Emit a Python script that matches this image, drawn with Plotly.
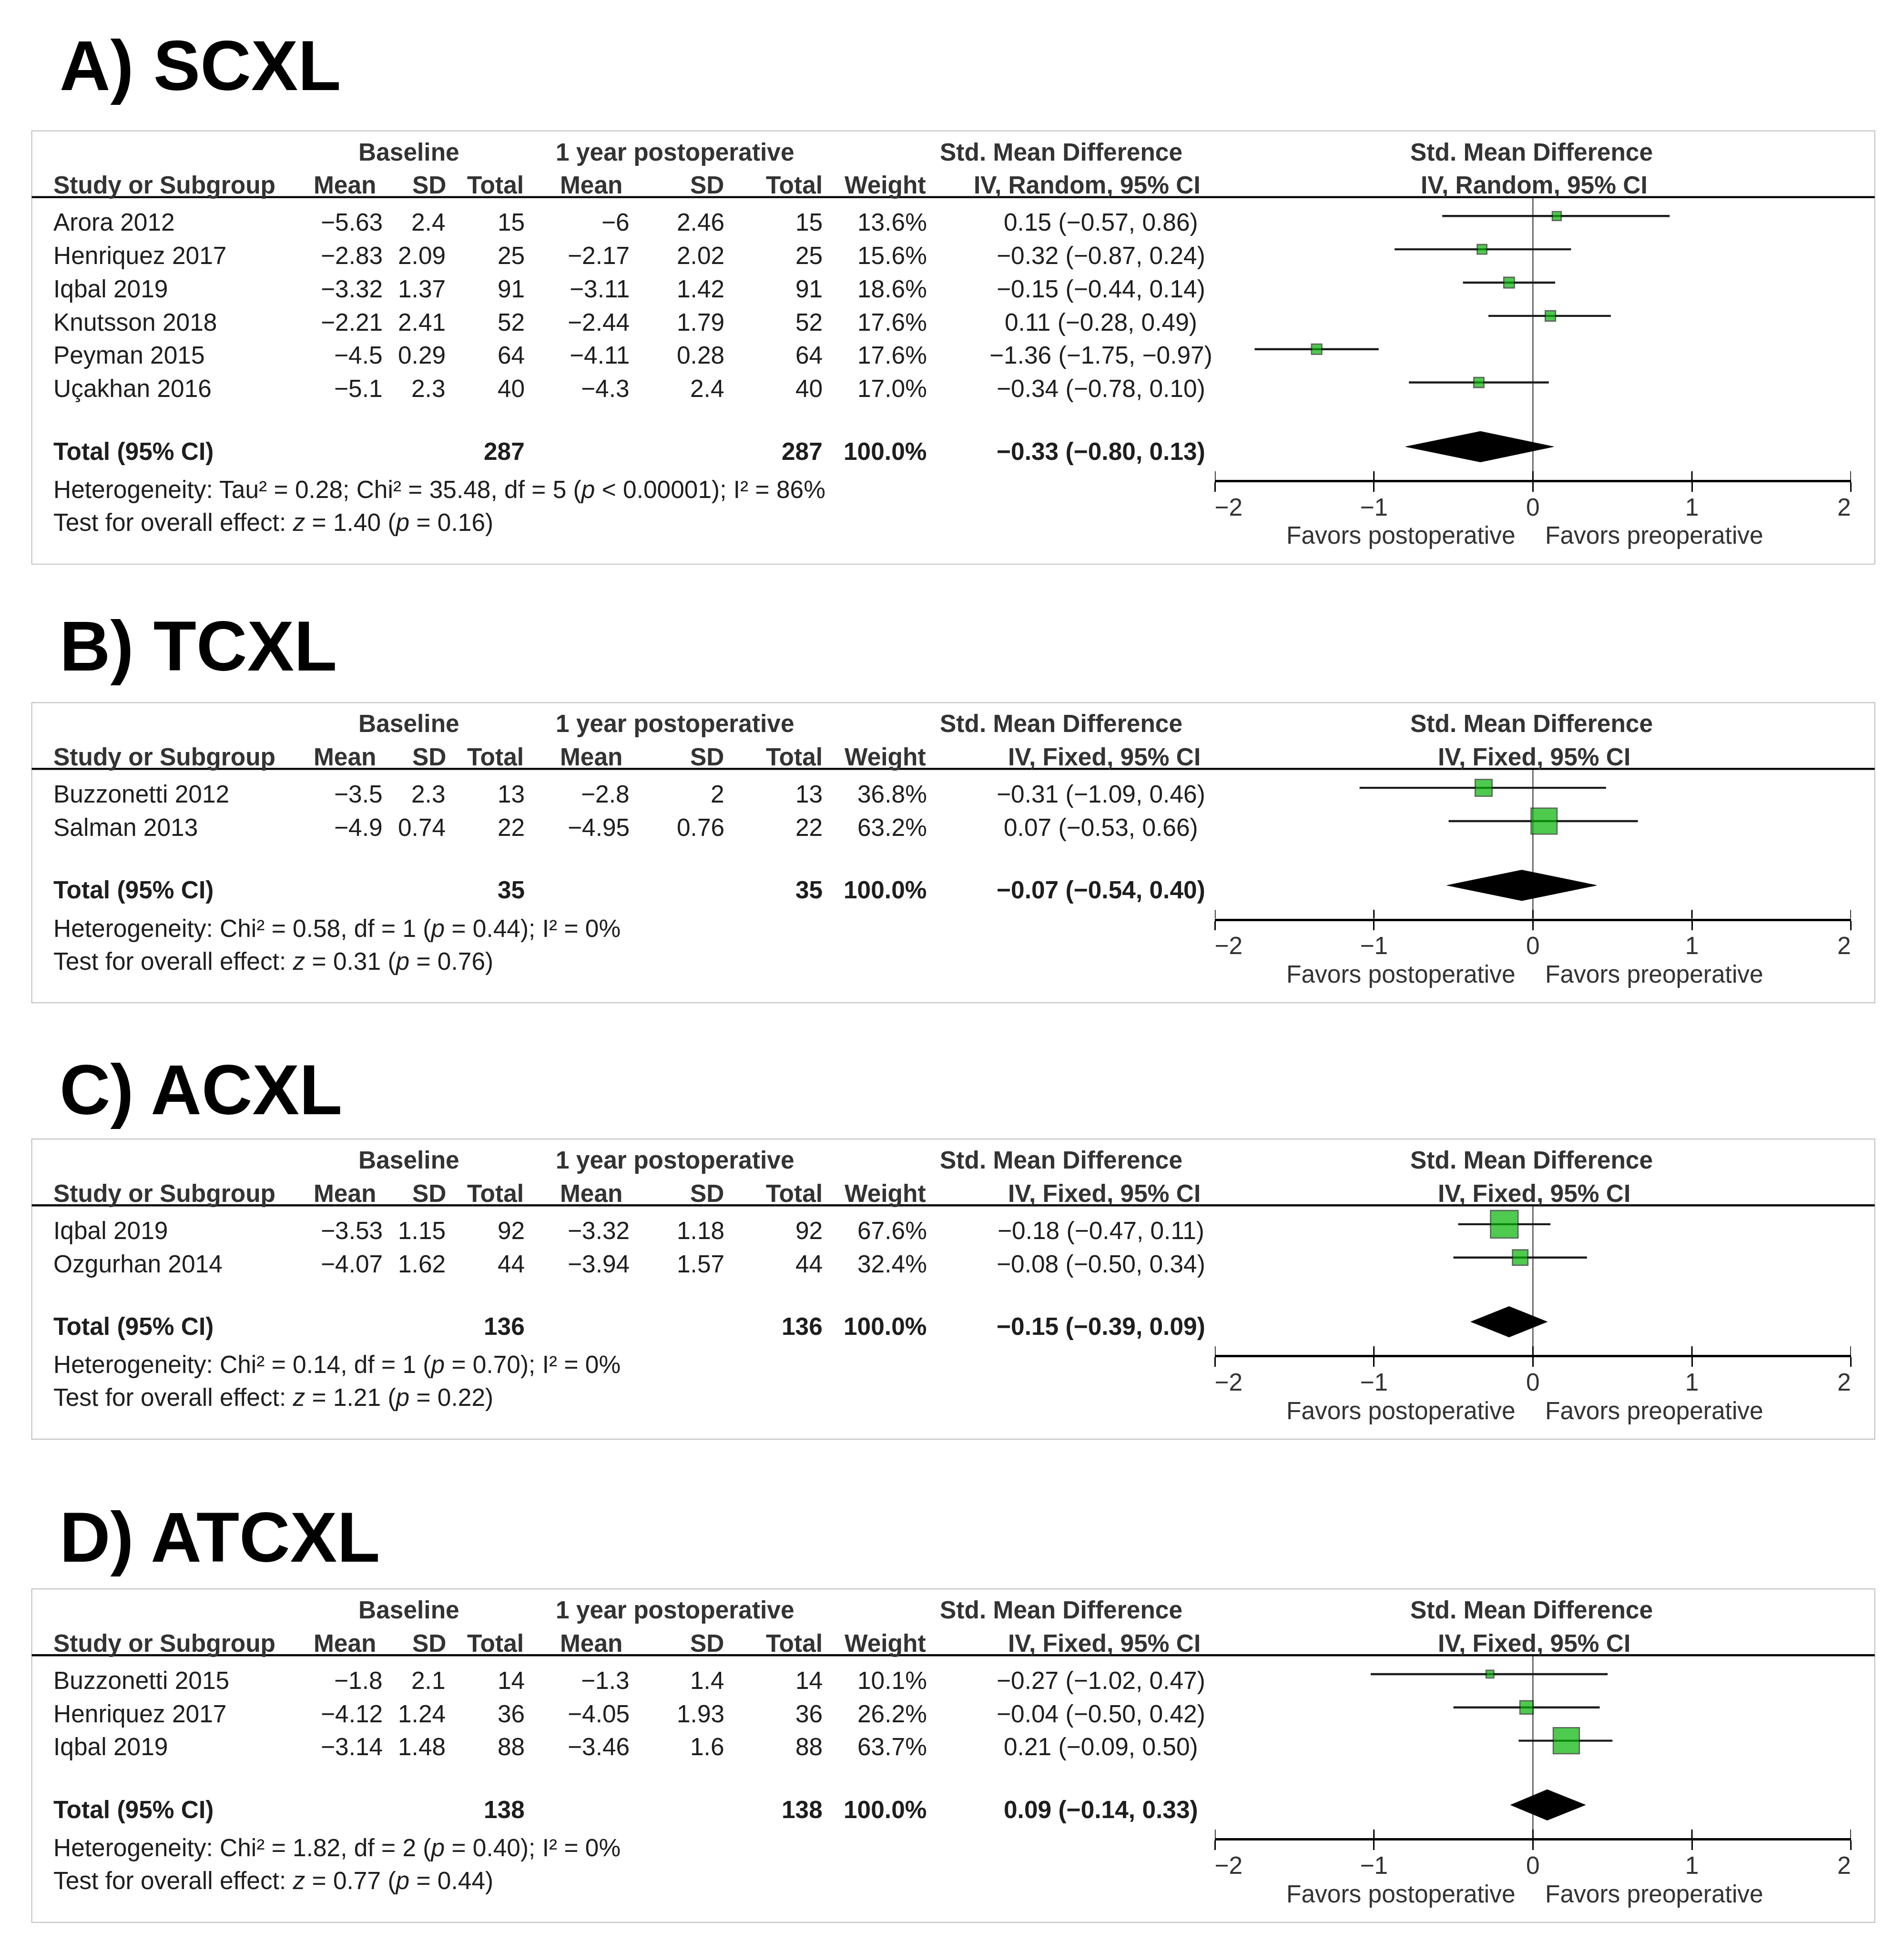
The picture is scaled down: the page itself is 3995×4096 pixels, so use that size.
import plotly.graph_objects as go

# ---------------- data ----------------
A_study = ["Arora 2012", "Henriquez 2017", "Iqbal 2019", "Knutsson 2018", "Peyman 2015", "Uçakhan 2016"]
A_base_mean = [-5.63, -2.83, -3.32, -2.21, -4.5, -5.1]
A_base_sd = [2.4, 2.09, 1.37, 2.41, 0.29, 2.3]
A_base_n = [15, 25, 91, 52, 64, 40]
A_post_mean = [-6, -2.17, -3.11, -2.44, -4.11, -4.3]
A_post_sd = [2.46, 2.02, 1.42, 1.79, 0.28, 2.4]
A_post_n = [15, 25, 91, 52, 64, 40]
A_weight = [13.6, 15.6, 18.6, 17.6, 17.6, 17.0]
A_smd = [0.15, -0.32, -0.15, 0.11, -1.36, -0.34]
A_lo = [-0.57, -0.87, -0.44, -0.28, -1.75, -0.78]
A_hi = [0.86, 0.24, 0.14, 0.49, -0.97, 0.10]
A_total_n = [287, 287]
A_pooled = [-0.33, -0.80, 0.13]
A_het = "Heterogeneity: Tau² = 0.28; Chi² = 35.48, df = 5 (<i>p</i> &lt; 0.00001); I² = 86%"
A_test = "Test for overall effect: <i>z</i> = 1.40 (<i>p</i> = 0.16)"

B_study = ["Buzzonetti 2012", "Salman 2013"]
B_base_mean = [-3.5, -4.9]
B_base_sd = [2.3, 0.74]
B_base_n = [13, 22]
B_post_mean = [-2.8, -4.95]
B_post_sd = [2, 0.76]
B_post_n = [13, 22]
B_weight = [36.8, 63.2]
B_smd = [-0.31, 0.07]
B_lo = [-1.09, -0.53]
B_hi = [0.46, 0.66]
B_total_n = [35, 35]
B_pooled = [-0.07, -0.54, 0.40]
B_het = "Heterogeneity: Chi² = 0.58, df = 1 (<i>p</i> = 0.44); I² = 0%"
B_test = "Test for overall effect: <i>z</i> = 0.31 (<i>p</i> = 0.76)"

C_study = ["Iqbal 2019", "Ozgurhan 2014"]
C_base_mean = [-3.53, -4.07]
C_base_sd = [1.15, 1.62]
C_base_n = [92, 44]
C_post_mean = [-3.32, -3.94]
C_post_sd = [1.18, 1.57]
C_post_n = [92, 44]
C_weight = [67.6, 32.4]
C_smd = [-0.18, -0.08]
C_lo = [-0.47, -0.50]
C_hi = [0.11, 0.34]
C_total_n = [136, 136]
C_pooled = [-0.15, -0.39, 0.09]
C_het = "Heterogeneity: Chi² = 0.14, df = 1 (<i>p</i> = 0.70); I² = 0%"
C_test = "Test for overall effect: <i>z</i> = 1.21 (<i>p</i> = 0.22)"

D_study = ["Buzzonetti 2015", "Henriquez 2017", "Iqbal 2019"]
D_base_mean = [-1.8, -4.12, -3.14]
D_base_sd = [2.1, 1.24, 1.48]
D_base_n = [14, 36, 88]
D_post_mean = [-1.3, -4.05, -3.46]
D_post_sd = [1.4, 1.93, 1.6]
D_post_n = [14, 36, 88]
D_weight = [10.1, 26.2, 63.7]
D_smd = [-0.27, -0.04, 0.21]
D_lo = [-1.02, -0.50, -0.09]
D_hi = [0.47, 0.42, 0.50]
D_total_n = [138, 138]
D_pooled = [0.09, -0.14, 0.33]
D_het = "Heterogeneity: Chi² = 1.82, df = 2 (<i>p</i> = 0.40); I² = 0%"
D_test = "Test for overall effect: <i>z</i> = 0.77 (<i>p</i> = 0.44)"

panel_titles = ["A) SCXL", "B) TCXL", "C) ACXL", "D) ATCXL"]
panel_methods = ["IV, Random, 95% CI", "IV, Fixed, 95% CI", "IV, Fixed, 95% CI", "IV, Fixed, 95% CI"]
axis_ticks = [-2, -1, 0, 1, 2]
axis_ticktext = ["\u00a0\u00a0\u00a0\u00a0−2", "−1", "0", "1", "2\u00a0\u00a0"]
favors_left = "Favors postoperative"
favors_right = "Favors preoperative"

panels = [
    dict(study=A_study, bm=A_base_mean, bsd=A_base_sd, bn=A_base_n, pm=A_post_mean, psd=A_post_sd, pn=A_post_n,
         w=A_weight, smd=A_smd, lo=A_lo, hi=A_hi, tot=A_total_n, pooled=A_pooled, het=A_het, test=A_test),
    dict(study=B_study, bm=B_base_mean, bsd=B_base_sd, bn=B_base_n, pm=B_post_mean, psd=B_post_sd, pn=B_post_n,
         w=B_weight, smd=B_smd, lo=B_lo, hi=B_hi, tot=B_total_n, pooled=B_pooled, het=B_het, test=B_test),
    dict(study=C_study, bm=C_base_mean, bsd=C_base_sd, bn=C_base_n, pm=C_post_mean, psd=C_post_sd, pn=C_post_n,
         w=C_weight, smd=C_smd, lo=C_lo, hi=C_hi, tot=C_total_n, pooled=C_pooled, het=C_het, test=C_test),
    dict(study=D_study, bm=D_base_mean, bsd=D_base_sd, bn=D_base_n, pm=D_post_mean, psd=D_post_sd, pn=D_post_n,
         w=D_weight, smd=D_smd, lo=D_lo, hi=D_hi, tot=D_total_n, pooled=D_pooled, het=D_het, test=D_test),
]

# ---------------- layout geometry (reference units, 1529 x 1568) ----------------
W, H = 3995, 4096
PW, PH = 1529.0, 1568.0
S = W / PW
OFF = 8.0  # page body margin in output px
FONT = "Liberation Sans, Arial, sans-serif"
FS = 19.7 * S
TFS = 56.5 * S
TXT = "#1e1e1e"
HDR = "#333333"

panel_tops = [105.1, 564.3, 914.8, 1276.1]
title_ys = [52.7, 518.9, 875.0, 1234.6]
BOX_L, BOX_R = 25.5, 1505.5
AX_L, AX_R = 975.6, 1486.4
R = 26.73


def px(sx):
    return (sx * S - OFF) / W


def py(sy):
    return 1 - (sy * S - OFF) / H


def fnum(v):
    return f"{v:g}".replace("-", "−")


def fci(e, l, h):
    return f"{e:.2f} ({l:.2f}, {h:.2f})".replace("-", "−")


annotations = []
shapes = []
fig = go.Figure()


def ann(text, sx, sy, xanchor, size=FS, bold=False, color=TXT):
    if bold:
        text = "<b>" + text + "</b>"
    annotations.append(dict(text=text, x=px(sx), y=py(sy), xref="paper", yref="paper",
                            xanchor=xanchor, yanchor="middle", showarrow=False,
                            font=dict(family=FONT, size=size, color=color)))


layout_axes = {}
for k, (p, top, ty, title, method) in enumerate(zip(panels, panel_tops, title_ys, panel_titles, panel_methods), start=1):
    n = len(p["study"])
    h1 = top + 16.8
    h2 = top + 43.4
    line_y = top + 53.2
    m0 = line_y + 15.2
    row_y = [line_y + 20.1 + i * R for i in range(n)]
    tot_y = row_y[-1] + 50.3
    het_y = tot_y + 30.8
    test_y = het_y + 26.4
    bottom = test_y + 33.5
    axis_y = m0 + (n + 1.93) * R

    # title
    ann(title, 47, ty, "left", size=TFS, bold=True, color="#000000")

    # box + header rule
    shapes.append(dict(type="rect", xref="paper", yref="paper", x0=px(BOX_L), x1=px(BOX_R),
                       y0=py(bottom), y1=py(top), line=dict(color="#c4c4c4", width=2.2), layer="below"))
    shapes.append(dict(type="line", xref="paper", yref="paper", x0=px(BOX_L), x1=px(BOX_R),
                       y0=py(line_y), y1=py(line_y), line=dict(color="#000000", width=4.4)))

    # headers
    ann("Baseline", 328.5, h1, "center", bold=True, color=HDR)
    ann("1 year postoperative", 542, h1, "center", bold=True, color=HDR)
    ann("Std. Mean Difference", 852, h1, "center", bold=True, color=HDR)
    ann("Std. Mean Difference", 1230, h1, "center", bold=True, color=HDR)
    ann("Study or Subgroup", 42, h2, "left", bold=True, color=HDR)
    ann("Mean", 303, h2, "right", bold=True, color=HDR)
    ann("SD", 359.5, h2, "right", bold=True, color=HDR)
    ann("Total", 421.5, h2, "right", bold=True, color=HDR)
    ann("Mean", 501, h2, "right", bold=True, color=HDR)
    ann("SD", 582.5, h2, "right", bold=True, color=HDR)
    ann("Total", 661.5, h2, "right", bold=True, color=HDR)
    ann("Weight", 744.5, h2, "right", bold=True, color=HDR)
    ann(method, 965, h2, "right", bold=True, color=HDR)
    ann(method, 1232, h2, "center", bold=True, color=HDR)

    # study rows
    for i in range(n):
        y = row_y[i]
        ann(p["study"][i], 42, y, "left")
        ann(fnum(p["bm"][i]), 308, y, "right")
        ann(fnum(p["bsd"][i]), 358.5, y, "right")
        ann(str(p["bn"][i]), 422, y, "right")
        ann(fnum(p["pm"][i]), 506.5, y, "right")
        ann(fnum(p["psd"][i]), 582.5, y, "right")
        ann(str(p["pn"][i]), 661.5, y, "right")
        ann(f"{p['w'][i]:.1f}%", 745, y, "right")
        ann(fci(p["smd"][i], p["lo"][i], p["hi"][i]), 884, y, "center")

    # total rows
    ann("Total (95% CI)", 42, tot_y, "left", bold=True)
    ann(str(p["tot"][0]), 422, tot_y, "right", bold=True)
    ann(str(p["tot"][1]), 661.5, tot_y, "right", bold=True)
    ann(f"{sum(p['w']):.1f}%", 745, tot_y, "right", bold=True)
    ann(fci(*p["pooled"]), 884, tot_y, "center", bold=True)
    ann(p["het"], 42, het_y, "left")
    ann(p["test"], 42, test_y, "left")

    # favors
    ann(favors_left, 1218, axis_y + 44.5, "right", color=HDR)
    ann(favors_right, 1240, axis_y + 44.5, "left", color=HDR)

    # axes
    xa = "x" if k == 1 else f"x{k}"
    ya = "y" if k == 1 else f"y{k}"
    top_val = (line_y - m0) / R
    bot_val = n + 1.93
    layout_axes["xaxis" if k == 1 else f"xaxis{k}"] = dict(
        domain=[px(AX_L), px(AX_R)], range=[-2, 2], anchor=ya, automargin=False,
        showline=True, linecolor="#000000", linewidth=5.2,
        ticks="outside", ticklen=7.5 * S, tickwidth=3, tickcolor="#000000",
        tickvals=axis_ticks, ticktext=axis_ticktext,
        tickfont=dict(family=FONT, size=FS, color=HDR),
        ticklabelstandoff=-12,
        showgrid=False, zeroline=False, fixedrange=True)
    layout_axes["yaxis" if k == 1 else f"yaxis{k}"] = dict(
        domain=[py(axis_y), py(line_y)], range=[bot_val, top_val], anchor=xa, automargin=False,
        visible=False, showgrid=False, zeroline=False, fixedrange=True)

    # zero line
    shapes.append(dict(type="line", xref=xa, yref=f"{ya} domain", x0=0, x1=0, y0=0, y1=1,
                       line=dict(color="#2b2b2b", width=2), layer="below"))

    # upper halves of tick marks (ticks cross the axis line)
    tx, tyy = [], []
    for t in axis_ticks:
        tx += [t, t, None]
        tyy += [bot_val, bot_val - 7.0 / R, None]
    fig.add_trace(go.Scatter(x=tx, y=tyy, mode="lines", xaxis=xa, yaxis=ya,
                             line=dict(color="#000000", width=3), hoverinfo="skip"))

    # CI lines
    cx, cy = [], []
    for i in range(n):
        cx += [p["lo"][i], p["hi"][i], None]
        cy += [i, i, None]
    fig.add_trace(go.Scatter(x=cx, y=cy, mode="lines", xaxis=xa, yaxis=ya,
                             line=dict(color="#1c1c1c", width=4.4), hoverinfo="skip"))

    # squares (size grows with weight)
    sizes = [(4.3 + 0.276 * wv) * S - 2.4 for wv in p["w"]]
    fig.add_trace(go.Scatter(x=p["smd"], y=list(range(n)), mode="markers", xaxis=xa, yaxis=ya,
                             marker=dict(symbol="square", size=sizes, color="#04b404",
                                         line=dict(color="#142414", width=2.6)),
                             hoverinfo="skip"))

    # pooled diamond
    est, lo, hi = p["pooled"]
    c = n + 0.93
    hh = 0.46
    fig.add_trace(go.Scatter(x=[lo, est, hi, est, lo], y=[c, c - hh, c, c + hh, c], mode="lines",
                             fill="toself", fillcolor="#000000", xaxis=xa, yaxis=ya,
                             line=dict(color="#000000", width=1), hoverinfo="skip"))

fig.update_layout(
    width=W, height=H, margin=dict(l=0, r=0, t=0, b=0, pad=0, autoexpand=False),
    paper_bgcolor="#ffffff", plot_bgcolor="rgba(0,0,0,0)",
    showlegend=False, annotations=annotations, shapes=shapes,
    **layout_axes)

fig.write_html("out.html")
